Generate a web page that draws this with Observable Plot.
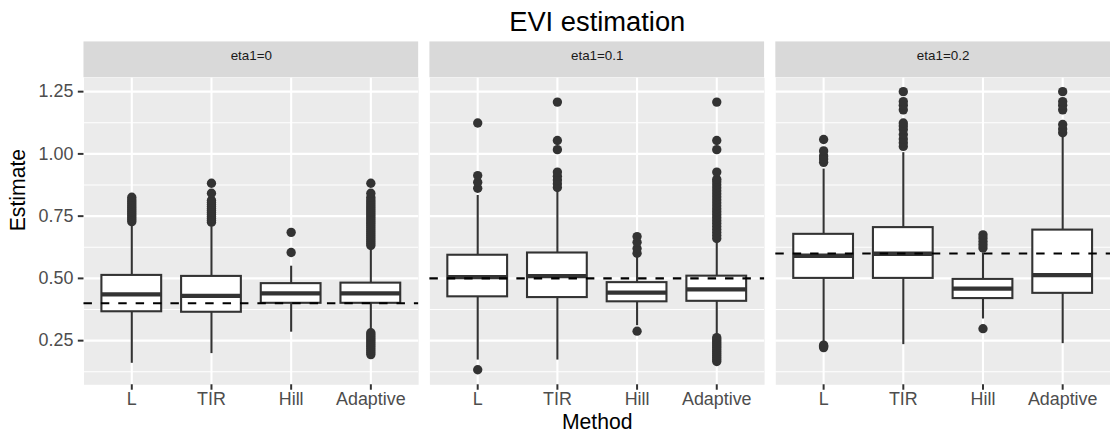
<!DOCTYPE html>
<html><head><meta charset="utf-8">
<script src="https://cdn.jsdelivr.net/npm/d3@7"></script>
<script src="https://cdn.jsdelivr.net/npm/@observablehq/plot@0.6"></script>
<style>body{margin:0;background:#fff}#chart{width:1110px;height:438px;overflow:hidden}</style>
</head><body><div id="chart"></div>
<script>
// ---- data ----
const facets = ["eta1=0", "eta1=0.1", "eta1=0.2"];
const methods = ["L", "TIR", "Hill", "Adaptive"];
const trueValues = [0.4, 0.5, 0.6];
const yTicks = [0.25, 0.5, 0.75, 1.0, 1.25];
const yMinorTicks = [0.125, 0.375, 0.625, 0.875, 1.125];

const lowerWhisker = [
  [0.159, 0.198, 0.284, 0.287],
  [0.172, 0.172, 0.310, 0.268],
  [0.245, 0.234, 0.337, 0.238]];
const lowerHinge = [
  [0.366, 0.364, 0.400, 0.400],
  [0.426, 0.423, 0.406, 0.408],
  [0.500, 0.500, 0.419, 0.440]];
const medians = [
  [0.436, 0.430, 0.440, 0.440],
  [0.505, 0.509, 0.443, 0.456],
  [0.591, 0.599, 0.459, 0.513]];
const upperHinge = [
  [0.512, 0.508, 0.479, 0.481],
  [0.593, 0.602, 0.483, 0.509],
  [0.677, 0.704, 0.496, 0.694]];
const upperWhisker = [
  [0.714, 0.708, 0.549, 0.620],
  [0.833, 0.850, 0.589, 0.655],
  [0.939, 1.005, 0.602, 1.070]];

const outlierValues = [
  [ // eta1=0
    [0.728, 0.736, 0.744, 0.752, 0.760, 0.768, 0.776, 0.784, 0.792, 0.800, 0.808, 0.816, 0.826],
    [0.726, 0.734, 0.742, 0.750, 0.758, 0.766, 0.774, 0.782, 0.790, 0.798, 0.806, 0.814, 0.842, 0.882],
    [0.604, 0.685],
    [0.194, 0.202, 0.210, 0.218, 0.226, 0.234, 0.242, 0.250, 0.258, 0.266, 0.274, 0.282,
     0.632, 0.640, 0.648, 0.656, 0.664, 0.672, 0.680, 0.688, 0.696, 0.704, 0.712, 0.720, 0.728,
     0.736, 0.744, 0.752, 0.760, 0.768, 0.776, 0.784, 0.792, 0.800, 0.808, 0.816, 0.826, 0.842, 0.882]
  ],
  [ // eta1=0.1
    [0.133, 0.862, 0.886, 0.913, 1.124],
    [0.865, 0.880, 0.895, 0.910, 0.927, 1.017, 1.054, 1.208],
    [0.288, 0.601, 0.620, 0.645, 0.668],
    [0.166, 0.174, 0.182, 0.190, 0.198, 0.206, 0.214, 0.222, 0.230, 0.238, 0.246, 0.254, 0.262,
     0.660, 0.672, 0.684, 0.696, 0.708, 0.720, 0.732, 0.744, 0.756, 0.768, 0.780, 0.792, 0.804,
     0.816, 0.828, 0.840, 0.852, 0.864, 0.876, 0.888, 0.898, 0.927, 1.017, 1.054, 1.208]
  ],
  [ // eta1=0.2
    [0.222, 0.227, 0.232, 0.966, 0.980, 0.992, 1.012, 1.058],
    [1.030, 1.045, 1.060, 1.078, 1.098, 1.112, 1.124, 1.177, 1.195, 1.210, 1.250],
    [0.298, 0.622, 0.635, 0.648, 0.662, 0.675],
    [1.085, 1.100, 1.118, 1.177, 1.195, 1.210, 1.250]
  ]
];

// ---- tables built from the arrays ----
const stats = [];
const outliers = [];
facets.forEach((f, i) => methods.forEach((m, j) => {
  stats.push({facet: f, method: m, lo: lowerWhisker[i][j], q1: lowerHinge[i][j],
              med: medians[i][j], q3: upperHinge[i][j], hi: upperWhisker[i][j]});
  outlierValues[i][j].forEach(v => outliers.push({facet: f, method: m, value: v}));
}));
const truth = facets.map((f, i) => ({facet: f, value: trueValues[i]}));
const strips = facets.map(f => ({facet: f, label: f}));

// ---- layout ----
const W = 1117, H = 438, mT = 77.7, mB = 51.3, mL = 84;
const yDomain = [0.0728, 1.306];
const pxPerUnit = (H - mT - mB) / (yDomain[1] - yDomain[0]);
const yAt = p => yDomain[1] - (p - mT) / pxPerUnit;   // pixel row -> y value (for labels / strips)
const ink = "#333333";

const chart = Plot.plot({
  width: W, height: H,
  marginTop: mT, marginBottom: mB, marginLeft: mL, marginRight: 0,
  style: {fontFamily: "'Liberation Sans', Arial, sans-serif", background: "white"},
  fx: {domain: facets, paddingInner: 0.0325, paddingOuter: 0, round: false, axis: null, label: null},
  x: {domain: methods, paddingInner: 0.25, paddingOuter: 0.225, round: false, label: null},
  y: {domain: yDomain, label: null},
  marks: [
    Plot.frame({fill: "#EBEBEB", stroke: "none"}),
    Plot.ruleY(yMinorTicks, {stroke: "white", strokeWidth: 1.1}),
    Plot.ruleY(yTicks, {stroke: "white", strokeWidth: 2.1}),
    Plot.ruleX(methods, {x: d => d, stroke: "white", strokeWidth: 2.1}),
    // strips
    Plot.rect(strips, {fx: "facet", y1: () => yAt(mT), y2: () => yAt(41.7), fill: "#D9D9D9"}),
    Plot.text(strips, {fx: "facet", y: () => yAt(55.4), text: "label", fontSize: 13.5, fill: "#1A1A1A", frameAnchor: "middle"}),
    // boxes
    Plot.ruleX(stats, {fx: "facet", x: "method", y1: "lo", y2: "q1", stroke: ink, strokeWidth: 2.1}),
    Plot.ruleX(stats, {fx: "facet", x: "method", y1: "q3", y2: "hi", stroke: ink, strokeWidth: 2.1}),
    Plot.barY(stats, {fx: "facet", x: "method", y1: "q1", y2: "q3", fill: "white", stroke: ink, strokeWidth: 2.1}),
    Plot.tickY(stats, {fx: "facet", x: "method", y: "med", stroke: ink, strokeWidth: 4.3}),
    Plot.dot(outliers, {fx: "facet", x: "method", y: "value", r: 4.7, fill: ink, stroke: "none"}),
    Plot.ruleY(truth, {fx: "facet", y: "value", stroke: "black", strokeWidth: 2.1, strokeDasharray: "8.5,9"}),
    // axes
    Plot.axisY(yTicks, {tickFormat: d3.format(".2f"), tickSize: 5.7, tickPadding: 5, fontSize: 18,
                        fill: "#4D4D4D", stroke: ink, strokeWidth: 2, label: null}),
    Plot.axisX({tickSize: 5.5, tickPadding: 2, fontSize: 18, fill: "#4D4D4D", stroke: ink, strokeWidth: 2, label: null}),
    // titles
    Plot.text(["EVI estimation"], {fx: () => facets[1], y: () => yAt(22.0), frameAnchor: "middle", fontSize: 27.5, fill: "black"}),
    Plot.text(["Method"], {fx: () => facets[1], y: () => yAt(424), frameAnchor: "middle", fontSize: 21.3, fill: "black"}),
    Plot.text(["Estimate"], {fx: () => facets[0], y: () => yAt(232.2), frameAnchor: "left", dx: -66, rotate: -90, fontSize: 21.3, fill: "black"})
  ]
});
document.getElementById("chart").appendChild(chart);
</script>
</body></html>
